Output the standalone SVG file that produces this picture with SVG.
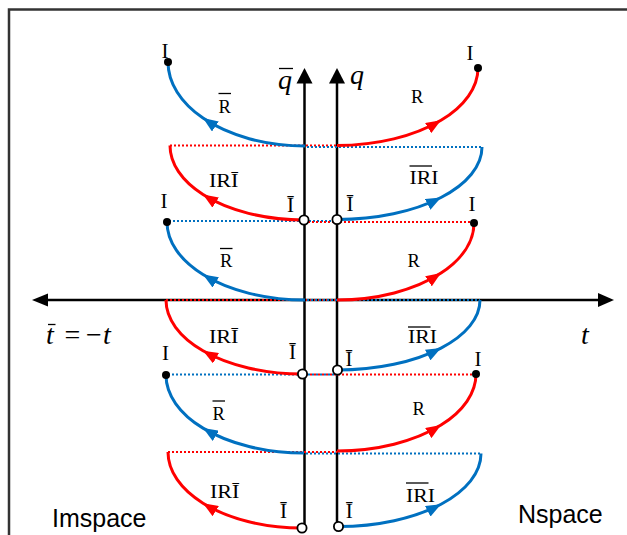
<svg xmlns="http://www.w3.org/2000/svg" width="627" height="535" viewBox="0 0 627 535">
<defs>
<style>
.ax{stroke:#000;stroke-width:2.5;fill:none}
.ah{fill:#000}
.cr{stroke:#FF0000;stroke-width:3;fill:none;marker-mid:url(#ar)}
.cb{stroke:#0070C0;stroke-width:3;fill:none;marker-mid:url(#ab)}
.dr{stroke:#FF0000;stroke-width:2;stroke-dasharray:2 2;fill:none}
.db{stroke:#0070C0;stroke-width:2;stroke-dasharray:2 2;stroke-dashoffset:2;fill:none}
.dot{fill:#000}
.oc{fill:#fff;stroke:#000;stroke-width:1.8}
.lb{font-family:"Liberation Serif",serif;font-size:21px;fill:#000}
.sm{font-family:"Liberation Serif",serif;font-size:18.5px;fill:#000}
.it{font-family:"Liberation Serif",serif;font-style:italic;font-size:28px;fill:#000}
.rm{font-family:"Liberation Serif",serif;font-size:28px;fill:#000}
.sp{font-family:"Liberation Sans",sans-serif;font-size:25px;fill:#000}
.bar{stroke:#000;stroke-width:1.3}
</style>
<marker id="ar" viewBox="0 0 15 12" refX="15" refY="6" markerWidth="15" markerHeight="12" markerUnits="userSpaceOnUse" orient="auto"><path d="M0,0L15,6L0,12z" fill="#FF0000"/></marker>
<marker id="ab" viewBox="0 0 15 12" refX="15" refY="6" markerWidth="15" markerHeight="12" markerUnits="userSpaceOnUse" orient="auto"><path d="M0,0L15,6L0,12z" fill="#0070C0"/></marker>
</defs>
<path id="frame" d="M9,535V9.5H627" fill="none" stroke="#333" stroke-width="2.5"/>
<g id="axes">
<line class="ax" x1="304.5" y1="528" x2="304.5" y2="80"/>
<polygon class="ah" points="304.5,68 296.5,83.5 312.5,83.5"/>
<line class="ax" x1="337" y1="526" x2="337" y2="80"/>
<polygon class="ah" points="337,68 329,83.5 345,83.5"/>
<line class="ax" x1="45" y1="300" x2="600" y2="300"/>
<polygon class="ah" points="32,300 48,293.5 48,306.5"/>
<polygon class="ah" points="614,300 598,293 598,307"/>
</g>
<g id="connectors">
<g id="dotted">
<line class="dr" x1="170" y1="145.5" x2="337" y2="145.5"/>
<line class="db" x1="305" y1="147" x2="482" y2="147"/>
<line class="db" x1="167" y1="221" x2="337" y2="221"/>
<line class="dr" x1="304" y1="222" x2="474" y2="222"/>
<line class="dr" x1="166" y1="300" x2="337" y2="300"/>
<line class="db" x1="305" y1="300" x2="480" y2="300"/>
<line class="db" x1="166" y1="374.5" x2="337.5" y2="374.5"/>
<line class="dr" x1="302" y1="374.5" x2="476" y2="374.5"/>
<line class="dr" x1="168" y1="452" x2="337" y2="452"/>
<line class="db" x1="304" y1="453.5" x2="481" y2="453.5"/>
</g>
<g id="curves">
<path class="cb" d="M305,146A137,84 0 0 1 203,118.1A137,84 0 0 1 168,62"/>
<path class="cr" d="M304,220A134,74.5 0 0 1 203,194.5A134,74.5 0 0 1 170,145.5"/>
<path class="cb" d="M305,300A138,78 0 0 1 203,274.5A138,78 0 0 1 167,222"/>
<path class="cr" d="M302.5,374A136.5,74 0 0 1 203,350.7A136.5,74 0 0 1 166,300"/>
<path class="cb" d="M304,453A138,78 0 0 1 203,428.1A138,78 0 0 1 166,375"/>
<path class="cr" d="M302,528A134,76 0 0 1 203,503.2A134,76 0 0 1 168,452"/>
<path class="cr" d="M337,145.5A141,77.5 0 0 0 441,120.3A141,77.5 0 0 0 478,68"/>
<path class="cb" d="M337,219.5A145,72.5 0 0 0 441,197.5A145,72.5 0 0 0 482,147"/>
<path class="cr" d="M337,300A137,77 0 0 0 441,273.1A137,77 0 0 0 474,223"/>
<path class="cb" d="M337.5,370A142.5,70 0 0 0 441,348.1A142.5,70 0 0 0 480,300"/>
<path class="cr" d="M337,451A139,77 0 0 0 441,425.1A139,77 0 0 0 476,374"/>
<path class="cb" d="M338.5,526.5A142.5,73 0 0 0 441,504.2A142.5,73 0 0 0 481,453.5"/>
</g>
</g>
<g id="points">
<circle class="dot" cx="168" cy="62" r="4"/>
<circle class="dot" cx="478" cy="68" r="4"/>
<circle class="dot" cx="167" cy="222" r="4"/>
<circle class="dot" cx="474" cy="223" r="4"/>
<circle class="dot" cx="166" cy="375" r="4"/>
<circle class="dot" cx="476" cy="374" r="4"/>
<circle class="oc" cx="304" cy="220" r="4.6"/>
<circle class="oc" cx="337" cy="219.5" r="4.6"/>
<circle class="oc" cx="302.5" cy="374" r="4.6"/>
<circle class="oc" cx="337.5" cy="370" r="4.6"/>
<circle class="oc" cx="302" cy="528" r="4.6"/>
<circle class="oc" cx="338.5" cy="526.5" r="4.6"/>
</g>
<g id="axis-labels">
<text class="it" x="278" y="89">q</text>
<line class="bar" x1="279" y1="68.5" x2="293" y2="68.5" stroke-width="1.6"/>
<text class="it" x="350" y="84">q</text>
<text class="it" x="46" y="344">t</text>
<line class="bar" x1="48" y1="324.5" x2="55.5" y2="324.5" stroke-width="1.6"/>
<text class="rm" x="64.5" y="344">=</text>
<text class="rm" x="86" y="344">−</text>
<text class="it" x="103" y="344">t</text>
<text class="it" x="581" y="344">t</text>
</g>
<g id="band1">
<text class="lb" x="165" y="58" text-anchor="middle">I</text>
<text class="sm" x="218.5" y="113">R</text>
<line class="bar" x1="218.5" y1="93.5" x2="231" y2="93.5"/>
<text class="sm" x="411" y="103">R</text>
<text class="lb" x="470" y="60" text-anchor="middle">I</text>
</g>
<g id="band2">
<text class="sm" x="209" y="187" textLength="29.5" lengthAdjust="spacingAndGlyphs">IRĪ</text>
<text class="lb" x="290.5" y="211.5" text-anchor="middle">Ī</text>
<text class="lb" x="164" y="208" text-anchor="middle">I</text>
<text class="sm" x="409.5" y="184" textLength="29" lengthAdjust="spacingAndGlyphs">IRI</text>
<line class="bar" x1="409.5" y1="166" x2="432" y2="166"/>
<text class="lb" x="350" y="211" text-anchor="middle">Ī</text>
<text class="lb" x="472" y="211" text-anchor="middle">I</text>
</g>
<g id="band3">
<text class="sm" x="220" y="266.5">R</text>
<line class="bar" x1="220" y1="248.5" x2="232.5" y2="248.5"/>
<text class="sm" x="407.5" y="266.5">R</text>
</g>
<g id="band4">
<text class="sm" x="209" y="343" textLength="29.5" lengthAdjust="spacingAndGlyphs">IRĪ</text>
<text class="lb" x="165.5" y="360" text-anchor="middle">I</text>
<text class="lb" x="292.5" y="359" text-anchor="middle">Ī</text>
<text class="sm" x="408" y="343" textLength="29" lengthAdjust="spacingAndGlyphs">IRI</text>
<line class="bar" x1="408" y1="327" x2="430.5" y2="327"/>
<text class="lb" x="349" y="365.5" text-anchor="middle">Ī</text>
<text class="lb" x="478" y="366" text-anchor="middle">I</text>
</g>
<g id="band5">
<text class="sm" x="212.5" y="420">R</text>
<line class="bar" x1="212.5" y1="401" x2="225" y2="401"/>
<text class="sm" x="412.5" y="415">R</text>
</g>
<g id="band6">
<text class="sm" x="210" y="498" textLength="29.5" lengthAdjust="spacingAndGlyphs">IRĪ</text>
<text class="lb" x="283.5" y="518" text-anchor="middle">Ī</text>
<text class="sm" x="406" y="501.5" textLength="29" lengthAdjust="spacingAndGlyphs">IRI</text>
<line class="bar" x1="406" y1="483" x2="428.5" y2="483"/>
<text class="lb" x="349.3" y="518" text-anchor="middle">Ī</text>
</g>
<g id="regions">
<text class="sp" x="52" y="527">Imspace</text>
<text class="sp" x="518" y="523">Nspace</text>
</g>
</svg>
